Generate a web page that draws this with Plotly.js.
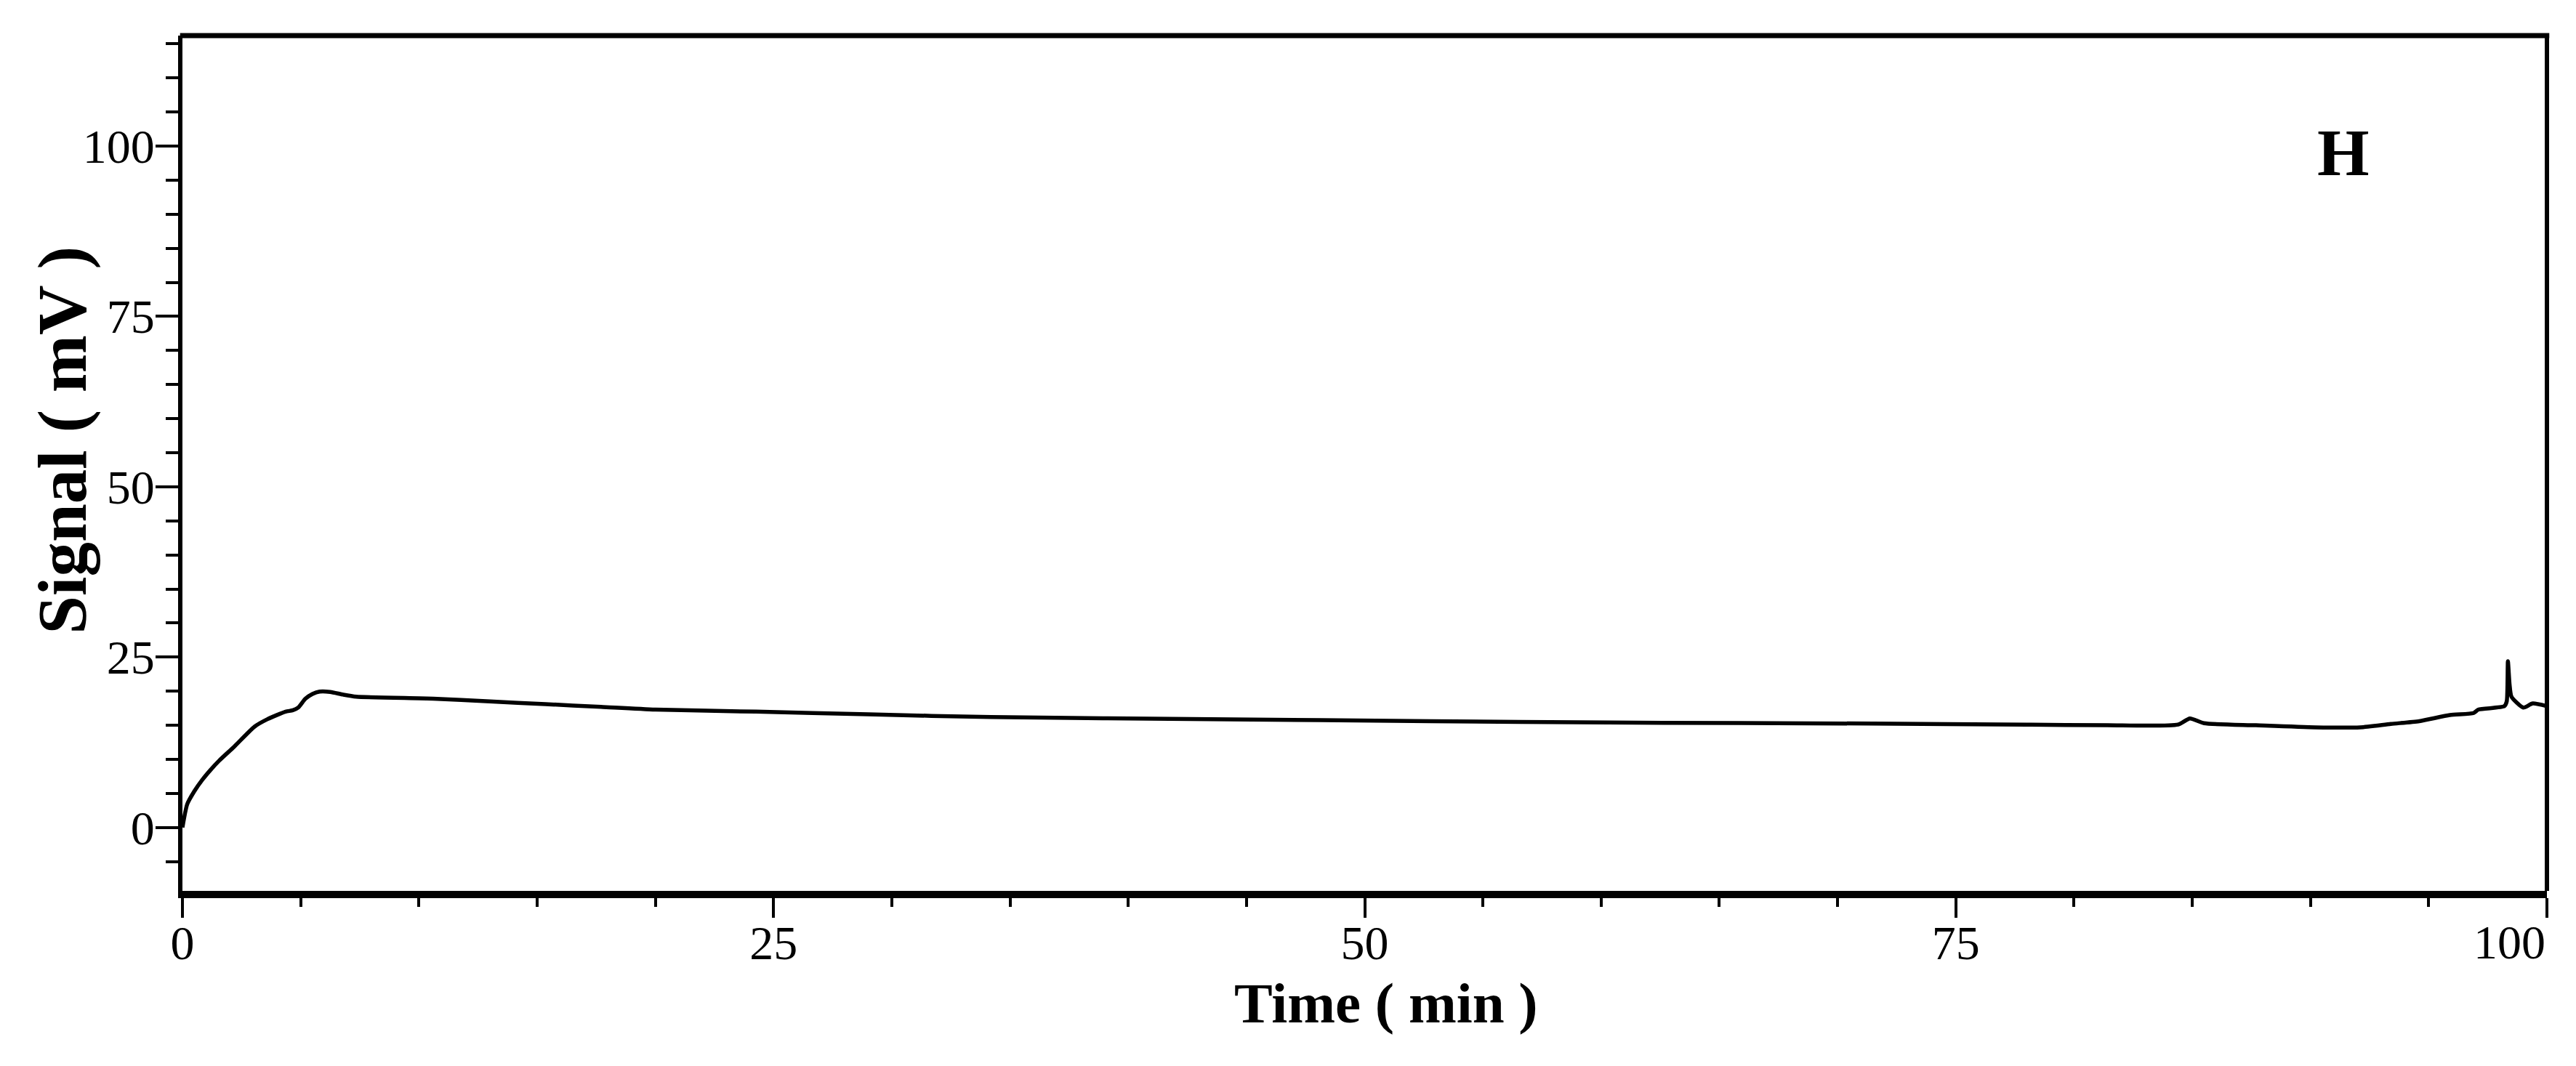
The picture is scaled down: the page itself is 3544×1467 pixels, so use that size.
<!DOCTYPE html>
<html>
<head>
<meta charset="utf-8">
<script src="https://cdn.plot.ly/plotly-3.0.1.min.js"></script>
<style>html,body{margin:0;padding:0;background:#fff;}#chart{width:3544px;height:1467px;}</style>
</head>
<body>
<div id="chart"></div>
<script>
// Chromatogram trace
var timeMin = [0, 0.2, 0.5, 0.84, 1.2, 1.55, 2.2, 3.05, 3.6, 4.36, 4.67, 4.9, 5.2, 5.5, 5.8, 6.25, 6.8, 7.35, 10.6, 13.0, 15.35, 17.7, 20.0, 24.25, 29.0, 34.2, 43.5, 52.8, 60.3, 71.5, 78.0, 81.4, 84.4, 84.9, 85.5, 87.7, 90.2, 92.1, 93.4, 94.6, 95.9, 96.9, 97.1, 98.2, 98.3, 98.35, 98.42, 98.5, 99.0, 99.4, 100];
var signalMV = [0, 3.4, 5.3, 7.0, 8.5, 9.8, 11.9, 14.8, 15.9, 17.0, 17.2, 17.6, 18.9, 19.6, 19.95, 19.9, 19.5, 19.2, 18.9, 18.5, 18.1, 17.7, 17.3, 17.0, 16.6, 16.2, 15.9, 15.6, 15.4, 15.25, 15.1, 15.0, 15.1, 16.0, 15.3, 15.0, 14.7, 14.7, 15.2, 15.6, 16.5, 16.8, 17.3, 17.8, 18.5, 24.4, 21.0, 19.2, 17.6, 18.2, 17.8];

var xTickVals = [0, 25, 50, 75, 100];
var xTickText = ['0', '25', '50', '75', ''];
var xLastTickValue = 100;
var xLastTickText = '100';
var yTickVals = [0, 25, 50, 75, 100];
var yTickText = ['0', '25', '50', '75', '100'];
var panelLabel = 'H';
var xTitle = 'Time ( min )';
var yTitle = 'Signal ( mV )';

var serif = "'Liberation Serif', 'Times New Roman', Times, serif";

var trace = {
  x: timeMin,
  y: signalMV,
  type: 'scatter',
  mode: 'lines',
  line: {color: '#000', width: 5.5, shape: 'spline', smoothing: 0.6},
  hoverinfo: 'skip'
};

var layout = {
  width: 3544,
  height: 1467,
  margin: {l: 251, r: 40, t: 49, b: 241, pad: 0},
  paper_bgcolor: '#fff',
  plot_bgcolor: '#fff',
  showlegend: false,
  font: {family: serif, color: '#000'},
  xaxis: {
    range: [0, 100],
    tickmode: 'array',
    tickvals: xTickVals,
    ticktext: xTickText,
    ticks: 'outside',
    ticklen: 27,
    tickwidth: 4,
    tickcolor: '#000',
    minor: {dtick: 5, ticks: 'outside', ticklen: 12, tickwidth: 4, tickcolor: '#000'},
    showline: true,
    linewidth: 10,
    linecolor: '#000',
    showgrid: false,
    zeroline: false,
    ticklabelstandoff: -22,
    tickfont: {family: serif, size: 66, color: '#000'}
  },
  yaxis: {
    range: [-9.3, 116.2],
    tickmode: 'array',
    tickvals: yTickVals,
    ticktext: yTickText,
    ticks: 'outside',
    ticklen: 31,
    tickwidth: 4,
    tickcolor: '#000',
    minor: {dtick: 5, ticks: 'outside', ticklen: 17, tickwidth: 4, tickcolor: '#000'},
    showline: true,
    linewidth: 6,
    linecolor: '#000',
    showgrid: false,
    zeroline: false,
    ticklabelstandoff: -12,
    tickfont: {family: serif, size: 66, color: '#000'}
  },
  shapes: [
    {type: 'line', xref: 'paper', yref: 'paper', x0: -0.001, x1: 1.001, y0: 1, y1: 1, line: {color: '#000', width: 7}},
    {type: 'line', xref: 'paper', yref: 'paper', x0: 1, x1: 1, y0: 0, y1: 1, line: {color: '#000', width: 6}}
  ],
  annotations: [
    {text: panelLabel, xref: 'paper', yref: 'paper', x: 0.914, y: 0.863, xanchor: 'center', yanchor: 'middle', showarrow: false,
     font: {family: serif, size: 92, weight: 'bold', color: '#000'}},
    {text: xLastTickText, xref: 'x', yref: 'paper', x: xLastTickValue, y: -0.0595, xanchor: 'right', yanchor: 'middle', showarrow: false,
     font: {family: serif, size: 66, color: '#000'}},
    {text: xTitle, xref: 'paper', yref: 'paper', x: 0.509, y: -0.131, xanchor: 'center', yanchor: 'middle', showarrow: false,
     font: {family: serif, size: 79, weight: 'bold', color: '#000'}},
    {text: yTitle, xref: 'paper', yref: 'paper', x: -0.0507, y: 0.527, xanchor: 'center', yanchor: 'middle', showarrow: false, textangle: -90,
     font: {family: serif, size: 95, weight: 'bold', color: '#000'}}
  ]
};

Plotly.newPlot('chart', [trace], layout, {displayModeBar: false, staticPlot: true});
</script>
</body>
</html>
